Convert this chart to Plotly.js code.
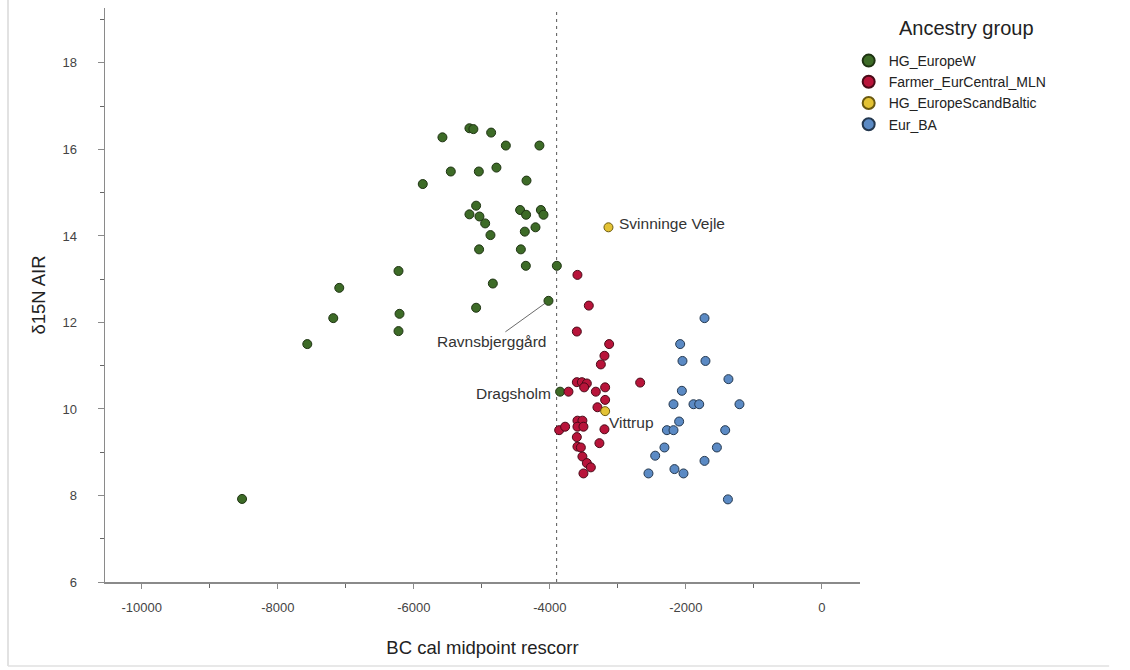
<!DOCTYPE html>
<html>
<head>
<meta charset="utf-8">
<script src="https://cdn.plot.ly/plotly-3.0.1.min.js"></script>
<style>html,body{margin:0;padding:0;background:#fff;}#chart{width:1130px;height:670px;}</style>
</head>
<body>
<div id="chart"></div>
<script>
// Ancestry groups (legend order)
const groupNames = ['HG_EuropeW', 'Farmer_EurCentral_MLN', 'HG_EuropeScandBaltic', 'Eur_BA'];
const legendTitle = 'Ancestry group';

// HG_EuropeW: BC cal midpoint, δ15N
const hgW_x = [-8525, -7566, -7096, -7184, -6225, -6210, -6225, -5579, -5182, -5124, -4863, -4647, -4153,
  -5456, -5044, -4785, -5868, -4343, -5084, -5182, -5035, -4951, -4437, -4349, -4132, -4093, -4211,
  -4368, -4873, -5040, -4426, -4353, -3897, -4838, -4020, -5084, -3849];
const hgW_y = [7.92, 11.50, 12.80, 12.10, 13.19, 12.20, 11.80, 16.28, 16.49, 16.47, 16.39, 16.09, 16.09,
  15.49, 15.49, 15.58, 15.20, 15.28, 14.70, 14.50, 14.45, 14.29, 14.60, 14.49, 14.60, 14.49, 14.20,
  14.10, 14.02, 13.69, 13.69, 13.31, 13.31, 12.90, 12.50, 12.34, 10.40];

// Farmer_EurCentral_MLN
const farmer_x = [-3594, -3427, -3603, -3128, -3197, -3250, -2672, -3603, -3529, -3456, -3496, -3726, -3324,
  -3187, -3187, -3300, -3863, -3775, -3594, -3521, -3594, -3506, -3197, -3271, -3603, -3594, -3544,
  -3521, -3456, -3397, -3506];
const farmer_y = [13.10, 12.39, 11.79, 11.50, 11.23, 11.03, 10.61, 10.62, 10.62, 10.59, 10.50, 10.40, 10.40,
  10.50, 10.21, 10.04, 9.51, 9.59, 9.73, 9.73, 9.59, 9.59, 9.53, 9.21, 9.35, 9.13, 9.11,
  8.90, 8.75, 8.65, 8.51];

// HG_EuropeScandBaltic
const scand_x = [-3138, -3187];
const scand_y = [14.20, 9.95];

// Eur_BA
const ba_x = [-1726, -2084, -2050, -1712, -1374, -2059, -2182, -1888, -1804, -1212, -2099, -2279, -2182,
  -1422, -2315, -1544, -2451, -1726, -2550, -2168, -2035, -1382];
const ba_y = [12.10, 11.50, 11.11, 11.11, 10.69, 10.42, 10.11, 10.11, 10.11, 10.11, 9.71, 9.51, 9.51,
  9.51, 9.11, 9.11, 8.92, 8.80, 8.51, 8.61, 8.51, 7.91];

// Labelled sites
const labelText = ['Svinninge Vejle', 'Ravnsbjerggård', 'Dragsholm', 'Vittrup'];
const labelX = [scand_x[0], hgW_x[34], hgW_x[36], scand_x[1]];
const labelY = [scand_y[0], hgW_y[34], hgW_y[36], scand_y[1]];

// Reference line
const refLineX = -3900;

// Tick labels
const xTickVals = [-10000, -8000, -6000, -4000, -2000, 0];
const yTickVals = [6, 8, 10, 12, 14, 16, 18];

const FONT = 'Liberation Sans, Arial, sans-serif';
const colors = ['#3d6b27', '#b8143a', '#e3c234', '#5b8ac4'];
const outline = ['#1e3312', '#4a0a18', '#6b5a10', '#24384f'];

const xs = [hgW_x, farmer_x, scand_x, ba_x];
const ys = [hgW_y, farmer_y, scand_y, ba_y];

const traces = groupNames.map((name, i) => ({
  type: 'scatter', mode: 'markers', name: name,
  x: xs[i], y: ys[i],
  marker: {size: 9, color: colors[i], line: {color: outline[i], width: 1}}
}));

const annStyle = {font: {family: FONT, size: 15.5, color: '#333'}};
const annotations = [
  Object.assign({x: labelX[0], y: labelY[0], text: labelText[0], showarrow: false, xanchor: 'left', xshift: 9, yshift: 4}, annStyle),
  Object.assign({x: labelX[1], y: labelY[1], text: labelText[1], showarrow: true, arrowhead: 0, arrowwidth: 0.8, arrowcolor: '#444', ax: -57, ay: 41, standoff: 4}, annStyle),
  Object.assign({x: labelX[2], y: labelY[2], text: labelText[2], showarrow: false, xanchor: 'right', xshift: -7, yshift: -2}, annStyle),
  Object.assign({x: labelX[3], y: labelY[3], text: labelText[3], showarrow: false, xanchor: 'left', xshift: 2, yshift: -11}, annStyle),
  {x: (966 - 105) / 755, y: (582 - 28) / 574, xref: 'paper', yref: 'paper', xanchor: 'center', yanchor: 'middle',
   text: legendTitle, showarrow: false, font: {family: FONT, size: 20, color: '#222'}}
];

const layout = {
  width: 1130, height: 670,
  margin: {l: 105, r: 270, t: 8, b: 88},
  paper_bgcolor: '#fff', plot_bgcolor: '#fff',
  font: {family: FONT, color: '#333'},
  showlegend: true,
  legend: {
    x: 0.985, xanchor: 'left', y: (582 - 45) / 574, yanchor: 'top',
    font: {family: FONT, size: 14, color: '#222'},
    itemsizing: 'constant', tracegroupgap: 0,
    bgcolor: 'rgba(0,0,0,0)'
  },
  xaxis: {
    range: [-10540, 560], showgrid: false, zeroline: false,
    showline: true, linecolor: '#8a8a8a', linewidth: 1.5,
    ticks: 'outside', ticklen: 5, tickcolor: '#8a8a8a', tickwidth: 1,
    tickvals: xTickVals, ticktext: xTickVals.map(String),
    minor: {dtick: 1000, tick0: 0, ticks: 'outside', ticklen: 4, tickcolor: '#666', showgrid: false},
    tickfont: {family: FONT, size: 13, color: '#444'},
    ticklabelstandoff: 8,
    title: {text: 'BC cal midpoint rescorr', font: {family: FONT, size: 18.5, color: '#222'}, standoff: 27}
  },
  yaxis: {
    range: [6, 19.27], showgrid: false, zeroline: false,
    showline: true, linecolor: '#8a8a8a', linewidth: 1.5,
    ticks: 'outside', ticklen: 6, tickcolor: '#8a8a8a', tickwidth: 1,
    tickvals: yTickVals, ticktext: yTickVals.map(String),
    minor: {dtick: 2, tick0: 7, ticks: 'outside', ticklen: 4, tickcolor: '#666', showgrid: false},
    tickfont: {family: FONT, size: 13, color: '#444'},
    ticklabelstandoff: 18,
    title: {text: 'δ15N AIR', font: {family: FONT, size: 18.5, color: '#222'}, standoff: 12}
  },
  shapes: [
    {type: 'line', xref: 'x', yref: 'paper', x0: refLineX, x1: refLineX, y0: 0, y1: 1,
     line: {color: '#555', width: 1, dash: '3px,4px'}, layer: 'below'},
    {type: 'line', xref: 'paper', yref: 'paper', x0: -97/755, x1: -97/755, y0: -84/574, y1: 1.02,
     line: {color: '#d8d8d8', width: 1.5}},
    {type: 'line', xref: 'paper', yref: 'paper', x0: -97/755, x1: 1.33, y0: -84/574, y1: -84/574,
     line: {color: '#e0e0e0', width: 1.5}}
  ],
  annotations: annotations
};

Plotly.newPlot('chart', traces, layout, {displayModeBar: false, staticPlot: true});
</script>
</body>
</html>
